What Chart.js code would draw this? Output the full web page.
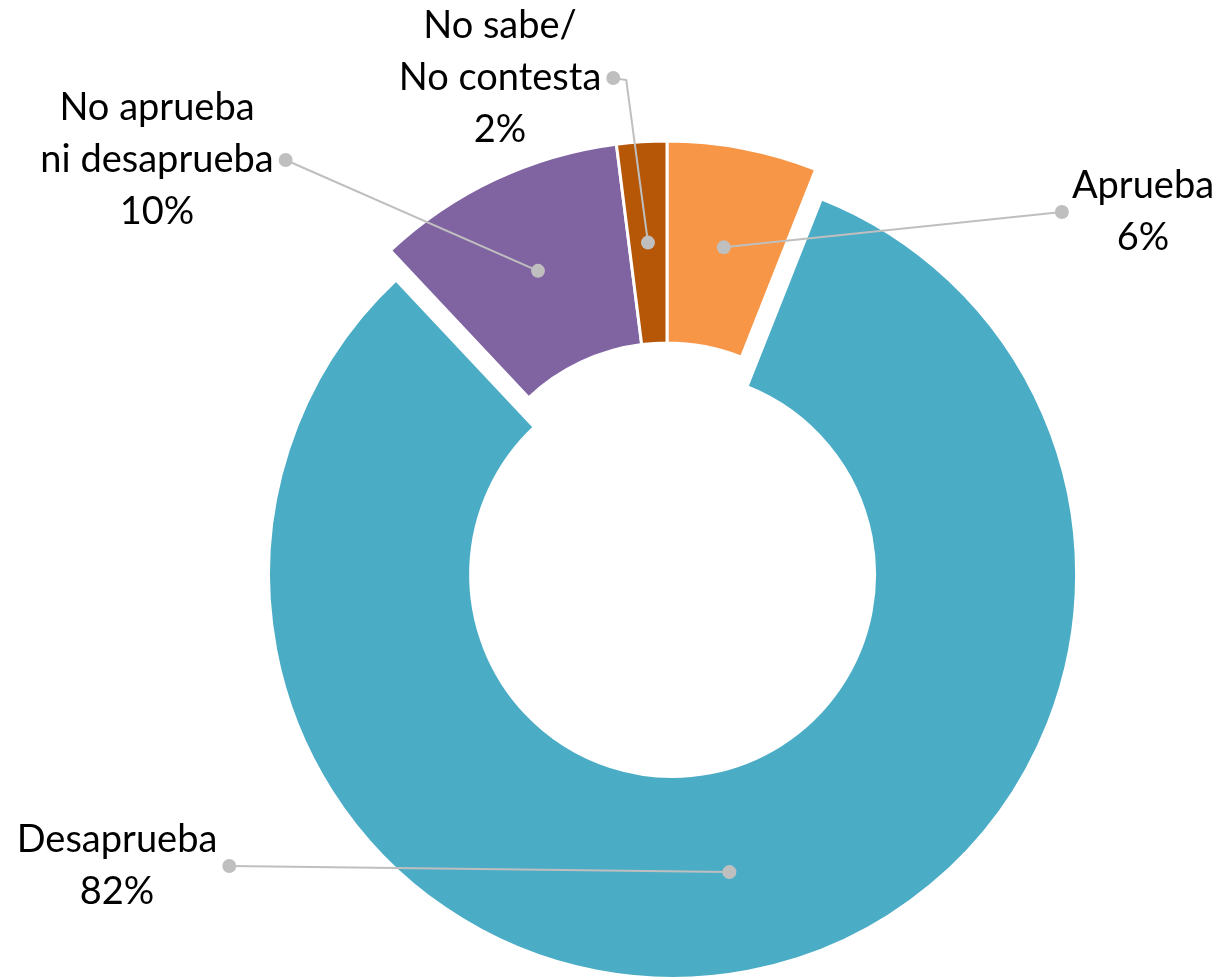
<!DOCTYPE html>
<html>
<head>
<meta charset="utf-8">
<script src="https://cdn.jsdelivr.net/npm/chart.js@4/dist/chart.umd.min.js"></script>
<style>
    html, body { margin: 0; padding: 0; background: #fff; overflow: hidden; }
    #wrap { position: absolute; left: 0; top: 0; width: 1222px; height: 1090px; }
</style>
</head>
<body>
<div id="wrap"><canvas id="pieChart"></canvas></div>
<script>
// Datos de la encuesta
const categories = ['Aprueba', 'Desaprueba', 'No aprueba ni desaprueba', 'No sabe/No contesta'];
const labelLines = [['Aprueba'], ['Desaprueba'], ['No aprueba', 'ni desaprueba'], ['No sabe/', 'No contesta']];
const values = [6, 82, 10, 2];

const colors = ['#F79646', '#4BACC6', '#8064A2', '#B65708'];
// Separacion del sector (px), sin cambiar el radio
const explode = [0, 30, 0, 0];

// Posicion de las etiquetas (centro del bloque de texto, lado del punto)
const labelPos = [
    { cx: 1143, cy: 212, side: 'left' },
    { cx: 117, cy: 866, side: 'right' },
    { cx: 157, cy: 160, side: 'right' },
    { cx: 500, cy: 78, side: 'right', elbow: 13 }
];

const LINE_COLOR = '#BFBFBF';
const FONT = '38px Lato';
const LINE_H = 52;

// Plugin: separa sectores trasladandolos (el offset de Chart.js tambien agranda el radio)
const explodeSlices = {
    id: 'explodeSlices',
    beforeDatasetsDraw(chart) {
        const meta = chart.getDatasetMeta(0);
        meta.data.forEach((arc, i) => {
            if (!explode[i] || arc._exploded) return;
            const draw = arc.draw;
            arc.draw = function(ctx) {
                const mid = (this.startAngle + this.endAngle) / 2;
                ctx.save();
                ctx.translate(Math.cos(mid) * explode[i], Math.sin(mid) * explode[i]);
                draw.apply(this, arguments);
                ctx.restore();
            };
            arc._exploded = true;
        });
    }
};

// Plugin: etiquetas con lineas guia
const leaderLabels = {
    id: 'leaderLabels',
    afterDatasetsDraw(chart) {
        const ctx = chart.ctx;
        const meta = chart.getDatasetMeta(0);
        ctx.save();
        ctx.font = FONT;
        ctx.textAlign = 'center';
        ctx.textBaseline = 'middle';

        meta.data.forEach((arc, i) => {
            const p = arc.getProps(['x', 'y', 'startAngle', 'endAngle', 'innerRadius', 'outerRadius']);
            const mid = (p.startAngle + p.endAngle) / 2;
            const r = (p.innerRadius + p.outerRadius) / 2 + explode[i];
            const ax = p.x + Math.cos(mid) * r;
            const ay = p.y + Math.sin(mid) * r;

            const lines = labelLines[i].concat([values[i] + '%']);
            const pos = labelPos[i];
            const maxW = Math.max(...lines.map(t => ctx.measureText(t).width));
            const dx = pos.side === 'left' ? pos.cx - maxW / 2 - 10 : pos.cx + maxW / 2 + 12;
            const dy = pos.cy;

            // linea guia
            ctx.strokeStyle = LINE_COLOR;
            ctx.lineWidth = 2;
            ctx.beginPath();
            ctx.moveTo(dx, dy);
            if (pos.elbow) ctx.lineTo(dx + pos.elbow, dy + 2);
            ctx.lineTo(ax, ay);
            ctx.stroke();

            // puntos
            ctx.fillStyle = LINE_COLOR;
            [[dx, dy], [ax, ay]].forEach(([x, y]) => {
                ctx.beginPath();
                ctx.arc(x, y, 7, 0, Math.PI * 2);
                ctx.fill();
            });

            // texto
            ctx.fillStyle = '#000000';
            const y0 = pos.cy - (lines.length - 1) * LINE_H / 2;
            lines.forEach((t, k) => ctx.fillText(t, pos.cx, y0 + k * LINE_H));
        });
        ctx.restore();
    }
};

new Chart(document.getElementById('pieChart'), {
    type: 'doughnut',
    data: {
        labels: categories,
        datasets: [{
            data: values,
            backgroundColor: colors,
            borderColor: '#ffffff',
            borderWidth: 3,
            hoverOffset: 0
        }]
    },
    options: {
        responsive: true,
        maintainAspectRatio: false,
        animation: false,
        radius: 404,
        cutout: '50%',
        layout: { padding: { left: 112 } },
        plugins: {
            legend: { display: false },
            tooltip: { enabled: false }
        }
    },
    plugins: [explodeSlices, leaderLabels]
});
</script>
</body>
</html>
